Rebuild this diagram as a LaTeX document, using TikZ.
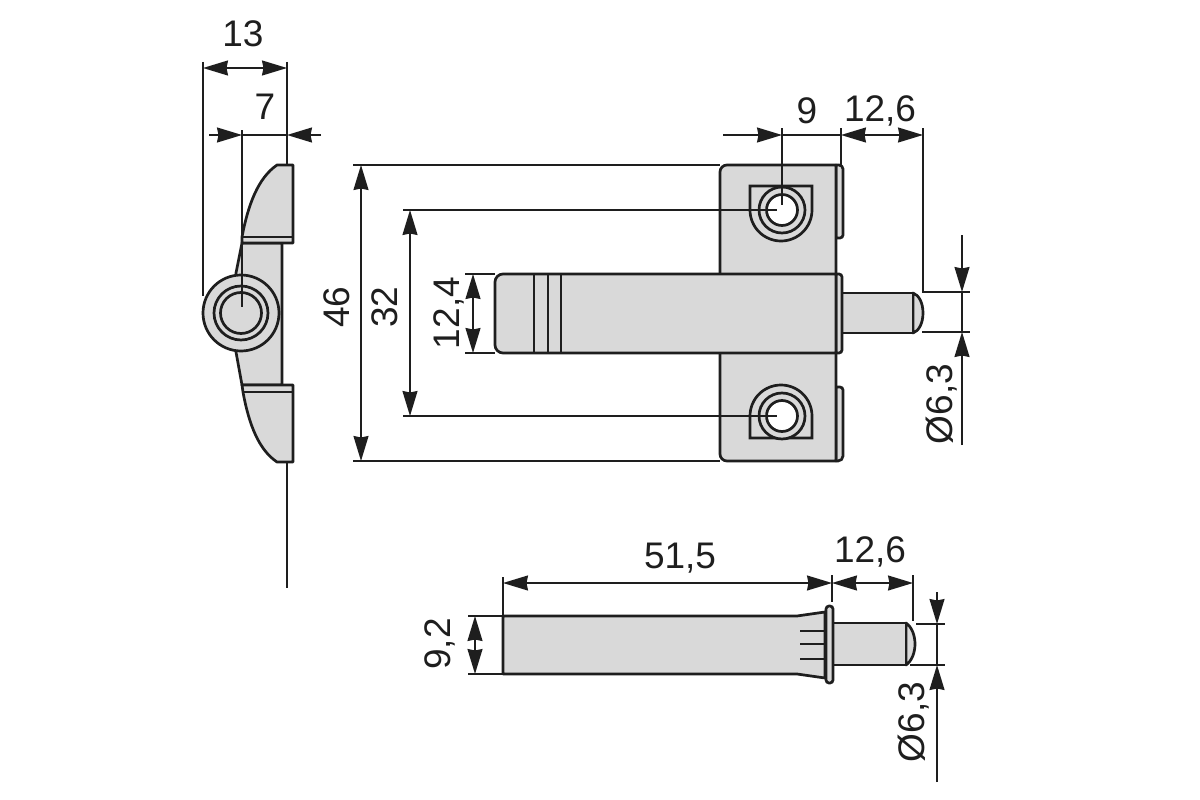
\documentclass[tikz,border=0pt]{standalone}
\usepackage{fontspec}
\setmainfont{Liberation Sans}
\usetikzlibrary{arrows.meta}
\definecolor{partfill}{HTML}{D9D9D9}
\definecolor{ink}{HTML}{1E1E1E}
\tikzset{
  part/.style={draw=ink,fill=partfill,line width=2.7pt,line join=round},
  edgeline/.style={draw=ink,line width=2.7pt},
  extline/.style={draw=ink,line width=1.6pt},
  dimone/.style={draw=ink,line width=1.6pt,-{Stealth[inset=1.5pt,length=25pt,width=15pt,fill=ink]}},
  dimtwo/.style={draw=ink,line width=1.6pt,{Stealth[inset=1.5pt,length=25pt,width=15pt,fill=ink]}-{Stealth[inset=1.5pt,length=25pt,width=15pt,fill=ink]}},
  dimtext/.style={text=ink,inner sep=0pt,font=\fontsize{37}{40}\selectfont},
  holewhite/.style={draw=ink,fill=white,line width=2.7pt}
}
\begin{document}
\begin{tikzpicture}[x=1pt,y=-1pt]
\useasboundingbox (0,0) rectangle (1200,800);
\fill[white] (0,0) rectangle (1200,800);
% ---------- left (side) view
\draw[part] (236,273) -- (242,243) -- (282,243) -- (282,385) -- (242,385) -- (236,352) -- cycle;
\draw[part] (287,165) -- (293,165) -- (293,243) -- (242,243) -- (242,237)
  .. controls (248,205) and (258,178) .. (277,165) -- cycle;
\draw[edgeline] (242,237) -- (293,237);
\draw[part] (287,462) -- (293,462) -- (293,385) -- (242,385) -- (243,392)
  .. controls (249,425) and (259,450) .. (277,462) -- cycle;
\draw[edgeline] (243,392) -- (293,392);
\draw[part] (241,313) circle (38);
\draw[part] (241,313) circle (27);
\draw[part] (241,313) circle (20.5);
\draw[extline] (203,62) -- (203,296);
\draw[extline] (287,62) -- (287,165);
\draw[extline] (287,462) -- (287,588);
\draw[extline] (242,130) -- (242,307);
\draw[dimtwo] (203,68) -- (287,68);
\draw[dimone] (209,135) -- (242,135);
\draw[extline] (242,135) -- (287,135);
\draw[dimone] (321,135) -- (287,135);
\node[dimtext] (t13) at (243,34) {13};
\node[dimtext] (t7) at (265,107) {7};
% ---------- front view
\draw[part] (836,165) -- (839,165) arc[start angle=-90,end angle=0,radius=4] -- (843,235) arc[start angle=0,end angle=90,radius=3] -- (836,238) -- cycle;
\draw[part] (836,387) -- (840,387) arc[start angle=-90,end angle=0,radius=3] -- (843,456) arc[start angle=0,end angle=90,radius=5] -- (836,461) -- cycle;
\draw[part] (720,172) arc[start angle=180,end angle=270,radius=7] -- (836,165) -- (836,461) -- (727,461) arc[start angle=90,end angle=180,radius=7] -- cycle;
% upper mount
\draw[edgeline] (750,186) -- (812,186) -- (812,210) arc[start angle=0,end angle=180,radius=31] -- cycle;
\draw[part,fill=partfill] (782,210) circle (23);
\draw[holewhite] (782,210) circle (15.5);
% lower mount
\draw[edgeline] (750,438) -- (812,438) -- (812,416) arc[start angle=0,end angle=-180,radius=31] -- cycle;
\draw[part,fill=partfill] (782,416) circle (23);
\draw[holewhite] (782,416) circle (15.5);
% pin
\draw[part] (913,293) .. controls (919,295) and (923,303) .. (923,313) .. controls (923,323) and (919,331) .. (913,333) -- cycle;
\draw[part] (842,293) rectangle (913,333);
% body
\draw[part] (836,274) -- (839,274) arc[start angle=-90,end angle=0,radius=3] -- (842,350) arc[start angle=0,end angle=90,radius=3] -- (836,353) -- cycle;
\draw[part] (503,274) -- (836,274) -- (836,353) -- (503,353) arc[start angle=90,end angle=180,radius=8] -- (495,282) arc[start angle=180,end angle=270,radius=8] -- cycle;
\draw[edgeline] (534,274) -- (534,353) (548,274) -- (548,353) (561,274) -- (561,353);
% front dimension lines
\draw[extline] (353,165) -- (720,165);
\draw[extline] (353,461) -- (720,461);
\draw[extline] (403,210) -- (777,210);
\draw[extline] (403,416) -- (777,416);
\draw[extline] (465,274) -- (495,274);
\draw[extline] (465,353) -- (495,353);
\draw[dimtwo] (361,165) -- (361,461);
\draw[dimtwo] (410,210) -- (410,416);
\draw[dimtwo] (473,274) -- (473,353);
\node[dimtext,rotate=90] (t46) at (337,307) {46};
\node[dimtext,rotate=90] (t32) at (385,307) {32};
\node[dimtext,rotate=90] (t124) at (449,313) {12,4};
\draw[extline] (782,128) -- (782,205);
\draw[extline] (841,128) -- (841,165);
\draw[extline] (923,128) -- (923,291);
\draw[dimone] (723,135) -- (782,135);
\draw[extline] (782,135) -- (841,135);
\draw[dimtwo] (841,135) -- (923,135);
\node[dimtext] (t9) at (807,111) {9};
\node[dimtext] (t126a) at (880,111) {12,6};
\draw[extline] (922,292) -- (970,292);
\draw[extline] (922,332) -- (970,332);
\draw[dimone] (962,235) -- (962,292);
\draw[extline] (962,292) -- (962,332);
\draw[dimone] (962,445) -- (962,332);
\node[dimtext,rotate=90] (tda) at (942,404) {Ø6,3};
% ---------- bottom view
\draw[part] (906,623) .. controls (912,627) and (915,636) .. (915,644) .. controls (915,652) and (912,661) .. (906,665) -- cycle;
\draw[part] (833,623) rectangle (906,665);
\draw[part] (503,616) -- (797,616) -- (825,612) -- (825,678) -- (797,674) -- (503,674) -- cycle;
\draw[part,rounded corners=3pt] (826,606) rectangle (833,683);
\draw[edgeline] (800,631) -- (826,631) (800,644) -- (826,644) (800,659) -- (826,659);
\draw[extline] (503,577) -- (503,615);
\draw[extline] (832,575) -- (832,602);
\draw[extline] (913,575) -- (913,621);
\draw[dimtwo] (503,583) -- (832,583);
\draw[dimtwo] (832,583) -- (913,583);
\node[dimtext] (t515) at (680,558) {51,5};
\node[dimtext] (t126b) at (870,552) {12,6};
\draw[extline] (468,616) -- (503,616);
\draw[extline] (468,674) -- (503,674);
\draw[dimtwo] (475,616) -- (475,674);
\node[dimtext,rotate=90] (t92) at (440,644) {9,2};
\draw[extline] (916,624) -- (945,624);
\draw[extline] (910,665) -- (945,665);
\draw[dimone] (937,592) -- (937,624);
\draw[extline] (937,624) -- (937,665);
\draw[dimone] (937,782) -- (937,665);
\node[dimtext,rotate=90] (tdb) at (914,722) {Ø6,3};
\end{tikzpicture}
\end{document}
